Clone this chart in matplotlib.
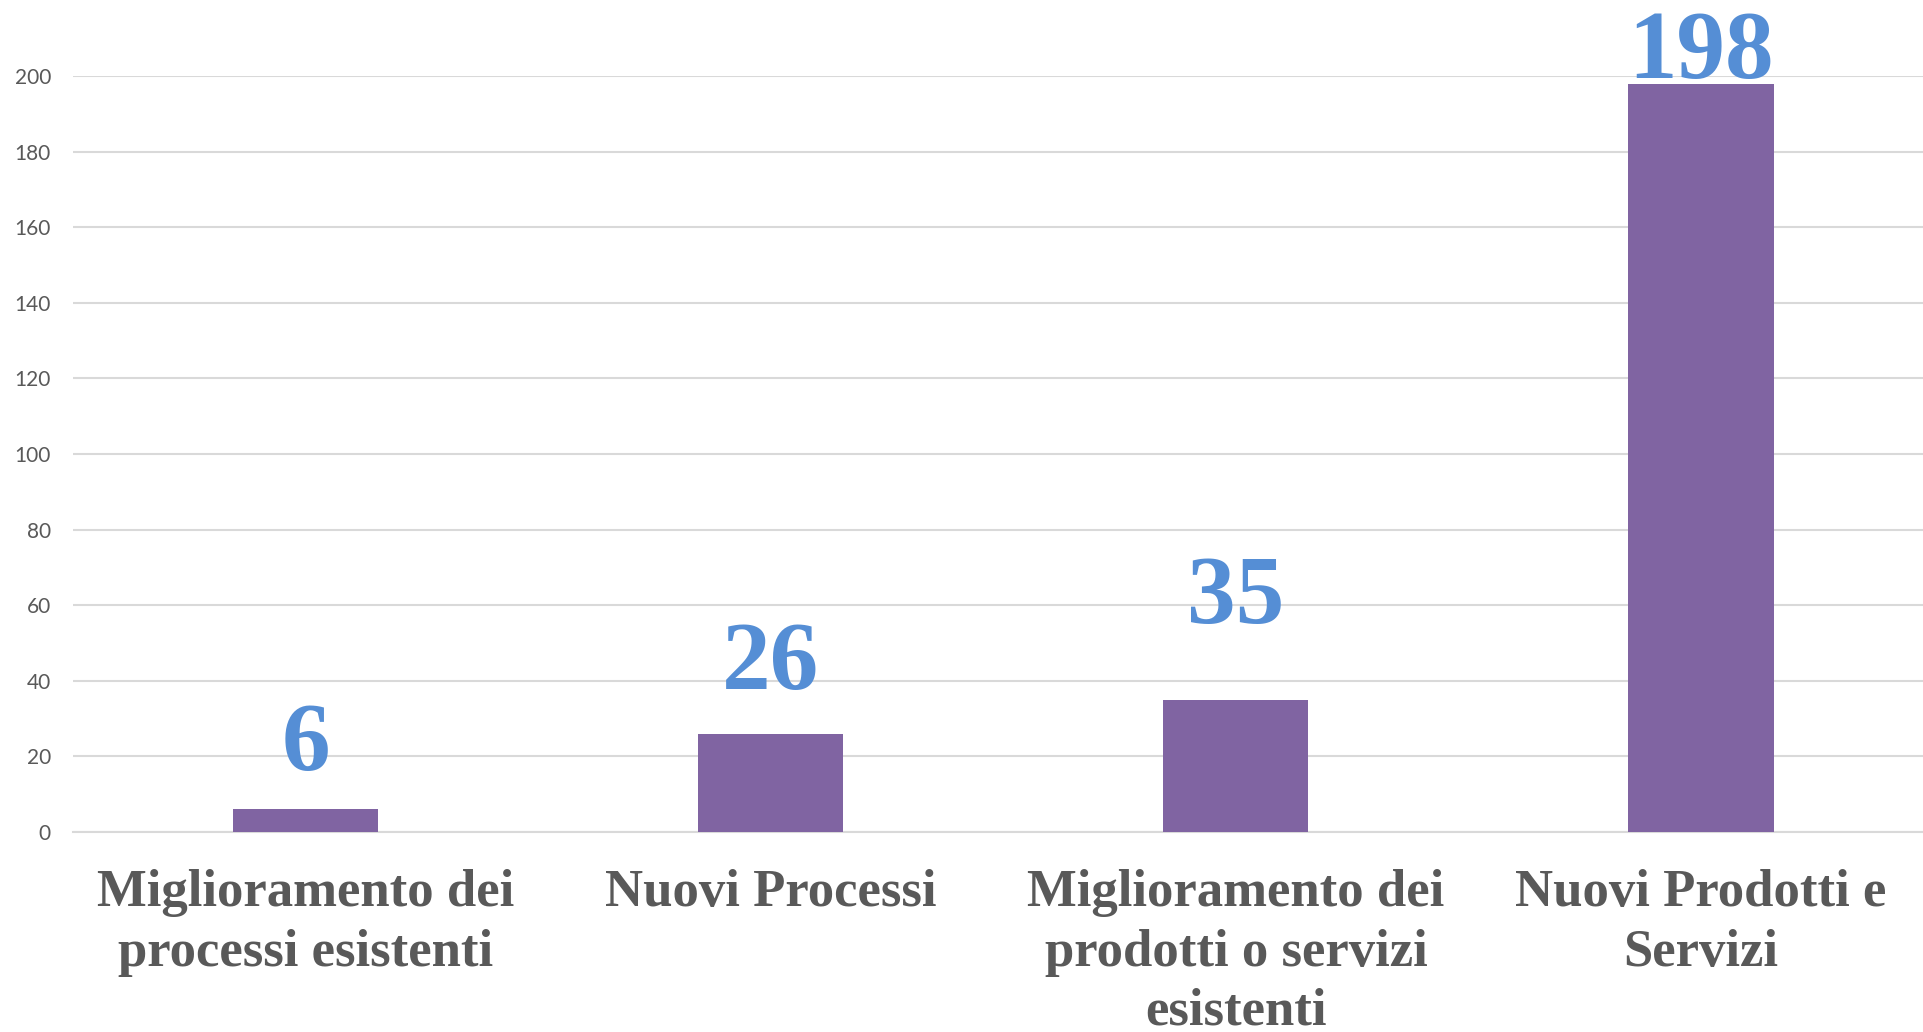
import matplotlib.pyplot as plt

# Data
categories = ["Miglioramento dei\nprocessi esistenti",
              "Nuovi Processi",
              "Miglioramento dei\nprodotti o servizi\nesistenti",
              "Nuovi Prodotti e\nServizi"]
values = [6, 26, 35, 198]
yticks = [0, 20, 40, 60, 80, 100, 120, 140, 160, 180, 200]

# label offsets above bars (points) - labels were hand placed in the original
label_offsets = [13, 17, 40, -11]

bar_color = "#8064A2"
label_color = "#558ED5"
text_gray = "#595959"
grid_gray = "#D9D9D9"

fig = plt.figure(figsize=(19.24, 10.32), dpi=100)
ax = fig.add_axes([0.038, 0.1938, 0.967, 0.7326])

x = range(len(values))
ax.bar(x, values, width=0.312, color=bar_color, zorder=3)

for xi, v, off in zip(x, values, label_offsets):
    ax.annotate(str(v), (xi, v), xytext=(0, off), textcoords="offset points",
                ha="center", va="bottom", color=label_color,
                fontsize=70, fontweight="bold", family="Liberation Serif",
                annotation_clip=False, zorder=4)

ax.set_xlim(-0.5, len(values) - 0.5)
ax.set_ylim(0, 200)
ax.set_yticks(yticks)
ax.yaxis.grid(True, color=grid_gray, linewidth=1.5, zorder=0)
ax.set_axisbelow(True)

ax.set_xticks(list(x))
ax.set_xticklabels(categories, family="Liberation Serif", fontweight="bold",
                   fontsize=38, color=text_gray, linespacing=1.3)
ax.tick_params(axis="x", length=0, pad=27)
ax.tick_params(axis="y", length=0, pad=16, labelsize=15, labelcolor=text_gray)
for lbl in ax.get_yticklabels():
    lbl.set_family("Lato")

for side in ["top", "right", "left"]:
    ax.spines[side].set_visible(False)
ax.spines["bottom"].set_color(grid_gray)
ax.spines["bottom"].set_linewidth(1.5)

plt.savefig("out.png", dpi=100)
